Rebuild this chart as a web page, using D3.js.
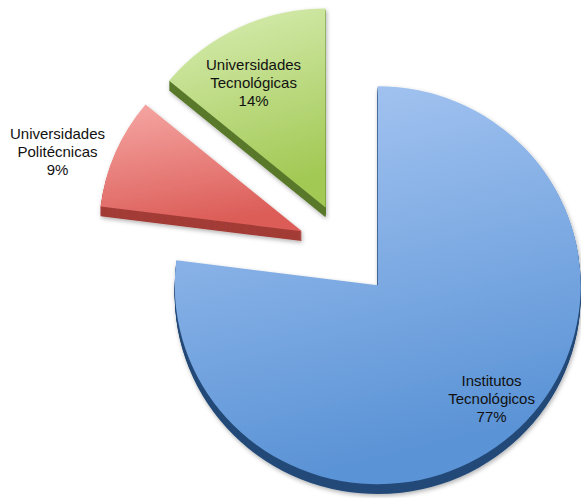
<!DOCTYPE html>
<html>
<head>
<meta charset="utf-8">
<script src="https://cdn.jsdelivr.net/npm/d3@7"></script>
<style>
  html, body { margin: 0; padding: 0; background: #fff; }
  svg { display: block; }
</style>
</head>
<body>
<svg id="chart" width="581" height="498"></svg>
<script>
// ---- data ----
const categories = ["Institutos Tecnológicos", "Universidades Politécnicas", "Universidades Tecnológicas"];
const labelLines = [["Institutos", "Tecnológicos"], ["Universidades", "Politécnicas"], ["Universidades", "Tecnológicas"]];
const values = [77, 9, 14];
const percentLabels = ["77%", "9%", "14%"];

// ---- styling / layout ----
const topColors = [["#aac8f3", "#5a93d6"], ["#f6a8a5", "#dc5d58"], ["#d9eeb5", "#a3c955"]];
const sideColors = ["#244a78", "#a33c37", "#5a792c"];
const labelAngle = [135, 288, 330];     // degrees, from slice apex
const labelRadius = [161, 257, 144];

const W = 581, H = 498;
const cx = 346, cy = 250;     // pie centre
const R = 203, ky = 0.98, explode = 48, thick = 10;

const svg = d3.select("#chart");
const defs = svg.append("defs");

const f = defs.append("filter").attr("id", "shadow").attr("x", "-10%").attr("y", "-10%").attr("width", "130%").attr("height", "130%");
f.append("feDropShadow").attr("dx", 1).attr("dy", 2).attr("stdDeviation", 2).attr("flood-color", "#000").attr("flood-opacity", 0.3);

topColors.forEach((c, i) => {
  const g = defs.append("linearGradient").attr("id", "grad" + i)
    .attr("x1", 0).attr("y1", 0).attr("x2", 0.25).attr("y2", 1);
  g.append("stop").attr("offset", "0%").attr("stop-color", c[0]);
  g.append("stop").attr("offset", "100%").attr("stop-color", c[1]);
});

const pie = d3.pie().sort(null).value(d => d)(values);
const arc = d3.arc().innerRadius(0).outerRadius(R);

pie.forEach((d, i) => {
  const mid = (d.startAngle + d.endAngle) / 2;
  const ox = cx + explode * Math.sin(mid);
  const oy = cy - explode * Math.cos(mid) * ky;
  const g = svg.append("g")
    .attr("transform", `translate(${ox},${oy}) scale(1,${ky})`)
    .attr("filter", "url(#shadow)");
  const p = arc(d);
  d3.range(thick, 0, -1).forEach(k => {
    g.append("path").attr("d", p).attr("transform", `translate(0,${k})`).attr("fill", sideColors[i]);
  });
  g.append("path").attr("d", p).attr("fill", `url(#grad${i})`);

  // label
  const a = labelAngle[i] * Math.PI / 180;
  const lx = ox + labelRadius[i] * Math.sin(a);
  const ly = oy - labelRadius[i] * Math.cos(a);
  const lines = labelLines[i].concat([percentLabels[i]]);
  const t = svg.append("text")
    .attr("text-anchor", "middle")
    .attr("font-family", "Liberation Sans, Arial, Helvetica, sans-serif")
    .attr("font-size", "15px")
    .attr("fill", "#111");
  lines.forEach((s, j) => {
    t.append("tspan").attr("x", lx).attr("y", ly + 5 + (j - 1) * 18).text(s);
  });
});
</script>
</body>
</html>
